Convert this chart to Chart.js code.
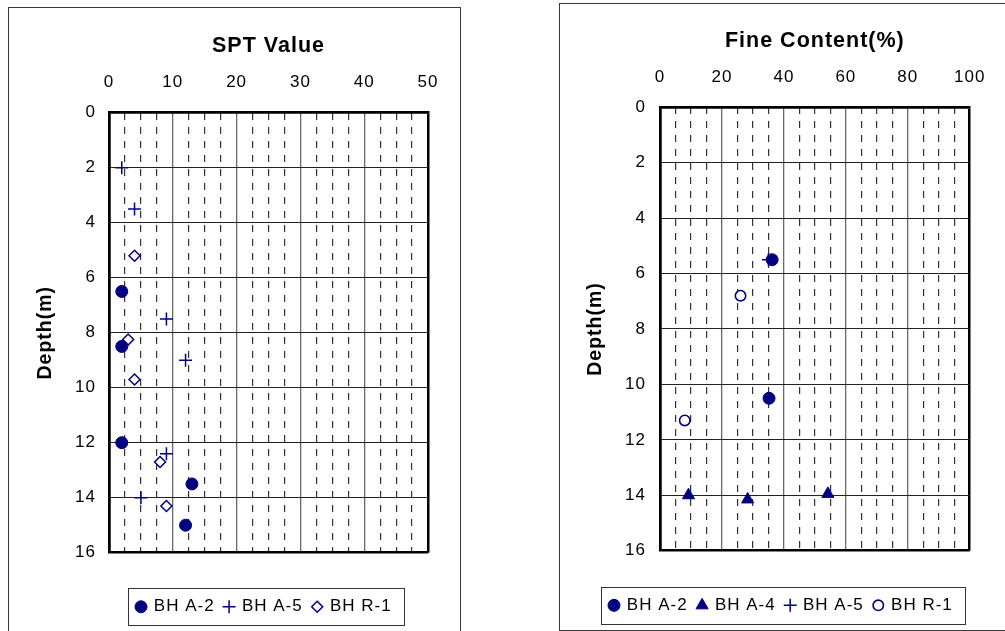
<!DOCTYPE html>
<html>
<head>
<meta charset="utf-8">
<title>SPT Value and Fine Content vs Depth</title>
<script src="https://cdn.jsdelivr.net/npm/chart.js@4.4.1/dist/chart.umd.min.js"></script>
<style>
  html, body { margin: 0; padding: 0; background: #fff; width: 1005px; height: 631px; overflow: hidden; position: relative; }
  .frame { position: absolute; box-sizing: border-box; border: 1px solid #3a3a3a; }
  canvas { position: absolute; top: 0; }
</style>
</head>
<body>
<div class="frame" style="left:8px;top:7px;width:453px;height:700px"></div>
<div class="frame" style="left:559px;top:3px;width:520px;height:628px"></div>
<canvas id="spt" width="500" height="631" style="left:0"></canvas>
<canvas id="fines" width="505" height="631" style="left:500px"></canvas>
<script>
// ---- SPT N-values by borehole (x = N, y = depth in m) ----
const sptA2Value = [2, 2, 2, 13, 12];
const sptA2Depth = [6.5, 8.5, 12, 13.5, 15];
const sptA5Value = [2, 4, 9, 12, 9, 5];
const sptA5Depth = [2, 3.5, 7.5, 9, 12.4, 14];
const sptR1Value = [4, 3, 4, 8, 9];
const sptR1Depth = [5.2, 8.25, 9.7, 12.7, 14.3];

// ---- Fine content (%) by borehole ----
const fcA2Value = [36.2, 35.2];
const fcA2Depth = [5.5, 10.5];
const fcA4Value = [9.2, 28.3, 54.2];
const fcA4Depth = [14.0, 14.15, 13.95];
const fcA5Value = [35];
const fcA5Depth = [5.5];
const fcR1Value = [26, 8];
const fcR1Depth = [6.8, 11.3];

// ---- labels ----
const sptTitle = 'SPT Value';
const fcTitle = 'Fine Content(%)';
const depthTitle = 'Depth(m)';
const labelA2 = 'BH A-2';
const labelA4 = 'BH A-4';
const labelA5 = 'BH A-5';
const labelR1 = 'BH R-1';

const FONT = "'Liberation Sans', Arial, Helvetica, sans-serif";
const NAVY = '#000080';

const pts = (xs, ys) => xs.map((x, i) => ({ x: x, y: ys[i] }));

const markers = {
  dot:      { pointStyle: 'circle',   pointRadius: 6,   pointBackgroundColor: NAVY,   pointBorderColor: NAVY, pointBorderWidth: 1 },
  plus:     { pointStyle: 'cross',    pointRadius: 6.5, pointBackgroundColor: NAVY,   pointBorderColor: NAVY, pointBorderWidth: 1.5 },
  diamond:  { pointStyle: 'rectRot',  pointRadius: 5.5, pointBackgroundColor: '#fff', pointBorderColor: NAVY, pointBorderWidth: 1.5 },
  ring:     { pointStyle: 'circle',   pointRadius: 5.2, pointBackgroundColor: '#fff', pointBorderColor: NAVY, pointBorderWidth: 1.6 },
  triangle: { pointStyle: 'triangle', pointRadius: 7,   pointBackgroundColor: NAVY,   pointBorderColor: NAVY, pointBorderWidth: 1 }
};

function series(label, xs, ys, marker) {
  return Object.assign({ label: label, data: pts(xs, ys), showLine: false }, marker);
}

// uniform letter spacing for all canvas text
const letterSpacing = {
  id: 'letterSpacing',
  beforeUpdate(chart) { chart.ctx.letterSpacing = '1px'; },
  beforeDraw(chart) { chart.ctx.letterSpacing = '1px'; }
};

// framed legend row: marker + label for each dataset
const boxLegend = {
  id: 'boxLegend',
  afterDraw(chart, args, opts) {
    const ctx = chart.ctx;
    ctx.save();
    ctx.letterSpacing = '1px';
    ctx.font = opts.font;
    ctx.textBaseline = 'middle';
    ctx.textAlign = 'left';
    const cy = opts.top + opts.height / 2;
    let x = opts.left + opts.padding;
    let right = x;
    chart.data.datasets.forEach(ds => {
      ctx.fillStyle = ds.pointBackgroundColor;
      ctx.strokeStyle = ds.pointBorderColor;
      ctx.lineWidth = ds.pointBorderWidth;
      Chart.helpers.drawPoint(ctx, {
        pointStyle: ds.pointStyle, radius: ds.pointRadius,
        borderWidth: ds.pointBorderWidth, rotation: 0
      }, x, cy);
      const tx = x + opts.markerGap;
      ctx.fillStyle = '#000';
      ctx.fillText(ds.label, tx, cy);
      right = tx + ctx.measureText(ds.label).width - 1;
      x = right + opts.itemGap;
    });
    ctx.strokeStyle = '#333';
    ctx.lineWidth = 1;
    ctx.strokeRect(Math.round(opts.left) + 0.5, Math.round(opts.top) + 0.5,
                   Math.round(right + opts.padding - opts.left), Math.round(opts.height));
    ctx.restore();
  }
};

function depthChart(id, o) {
  const isEdge = (v, max) => v === 0 || v === max;
  return new Chart(document.getElementById(id), {
    type: 'scatter',
    data: { datasets: o.datasets },
    plugins: [letterSpacing, boxLegend],
    options: {
      responsive: false,
      animation: false,
      events: [],
      devicePixelRatio: 1,
      layout: { padding: o.padding },
      plugins: {
        legend: { display: false },
        tooltip: { enabled: false },
        boxLegend: o.legend
      },
      scales: {
        x: {
          type: 'linear', position: 'top', min: 0, max: o.xMax,
          afterFit: s => { s.height = o.xAxisHeight; },
          ticks: { stepSize: o.xMajor, maxTicksLimit: 100, padding: o.xTickPad, color: '#000',
                   font: { family: FONT, size: 17 } },
          grid: {
            drawTicks: false,
            color: c => (c.tick && isEdge(c.tick.value, o.xMax)) ? '#000' : '#6a6a6a',
            lineWidth: c => (c.tick && isEdge(c.tick.value, o.xMax)) ? 2.5 : 1.3
          },
          border: { display: true, color: '#000', width: 2.5 },
          title: { display: true, text: o.title, color: '#000',
                   font: { family: FONT, size: 21.5, weight: 'bold' },
                   padding: { top: o.titlePad, bottom: 0 } }
        },
        xMinor: {
          type: 'linear', position: 'top', min: 0, max: o.xMax,
          afterFit: s => { s.height = 0; },
          ticks: { display: false, stepSize: o.xMinor, maxTicksLimit: 100 },
          grid: {
            drawTicks: false,
            color: c => (c.tick && Math.abs(c.tick.value % o.xMajor) < 1e-9) ? 'rgba(0,0,0,0)' : '#333',
            lineWidth: 1.2
          },
          border: { display: false, dash: [7, 7] }
        },
        y: {
          type: 'linear', position: 'left', reverse: true, min: 0, max: 16,
          afterFit: s => { s.width = o.yAxisWidth; },
          ticks: { stepSize: 2, maxTicksLimit: 100, padding: o.yTickPad, color: '#000',
                   font: { family: FONT, size: 17 } },
          grid: {
            drawTicks: false,
            color: c => (c.tick && isEdge(c.tick.value, 16)) ? '#000' : '#222',
            lineWidth: c => (c.tick && isEdge(c.tick.value, 16)) ? 2.5 : 1
          },
          border: { display: true, color: '#000', width: 2.5 },
          title: { display: true, text: depthTitle, color: '#000',
                   font: { family: FONT, size: 19.5, weight: 'bold' },
                   padding: { top: 33.8, bottom: 0 } }
        }
      }
    }
  });
}

const legendFont = '17px ' + FONT;

depthChart('spt', {
  title: sptTitle, xMax: 50, xMajor: 10, xMinor: 2.5,
  padding: { left: 0, right: 72, top: 0, bottom: 78.3 },
  yAxisWidth: 109, xAxisHeight: 112.7, titlePad: 32.8, xTickPad: 19.7, yTickPad: 13,
  legend: { left: 128, top: 588.3, height: 37, padding: 13, markerGap: 12.8, itemGap: 15.5, font: legendFont },
  datasets: [
    series(labelA2, sptA2Value, sptA2Depth, markers.dot),
    series(labelA5, sptA5Value, sptA5Depth, markers.plus),
    series(labelR1, sptR1Value, sptR1Depth, markers.diamond)
  ]
});

depthChart('fines', {
  title: fcTitle, xMax: 100, xMajor: 20, xMinor: 5,
  padding: { left: 50, right: 27.3, top: 0, bottom: 80.3 },
  yAxisWidth: 110, xAxisHeight: 107.3, titlePad: 28.4, xTickPad: 19.6, yTickPad: 14,
  legend: { left: 101, top: 586.7, height: 37.3, padding: 13, markerGap: 12.8, itemGap: 15.5, font: legendFont },
  datasets: [
    series(labelA2, fcA2Value, fcA2Depth, markers.dot),
    series(labelA4, fcA4Value, fcA4Depth, markers.triangle),
    series(labelA5, fcA5Value, fcA5Depth, markers.plus),
    series(labelR1, fcR1Value, fcR1Depth, markers.ring)
  ]
});
</script>
</body>
</html>
